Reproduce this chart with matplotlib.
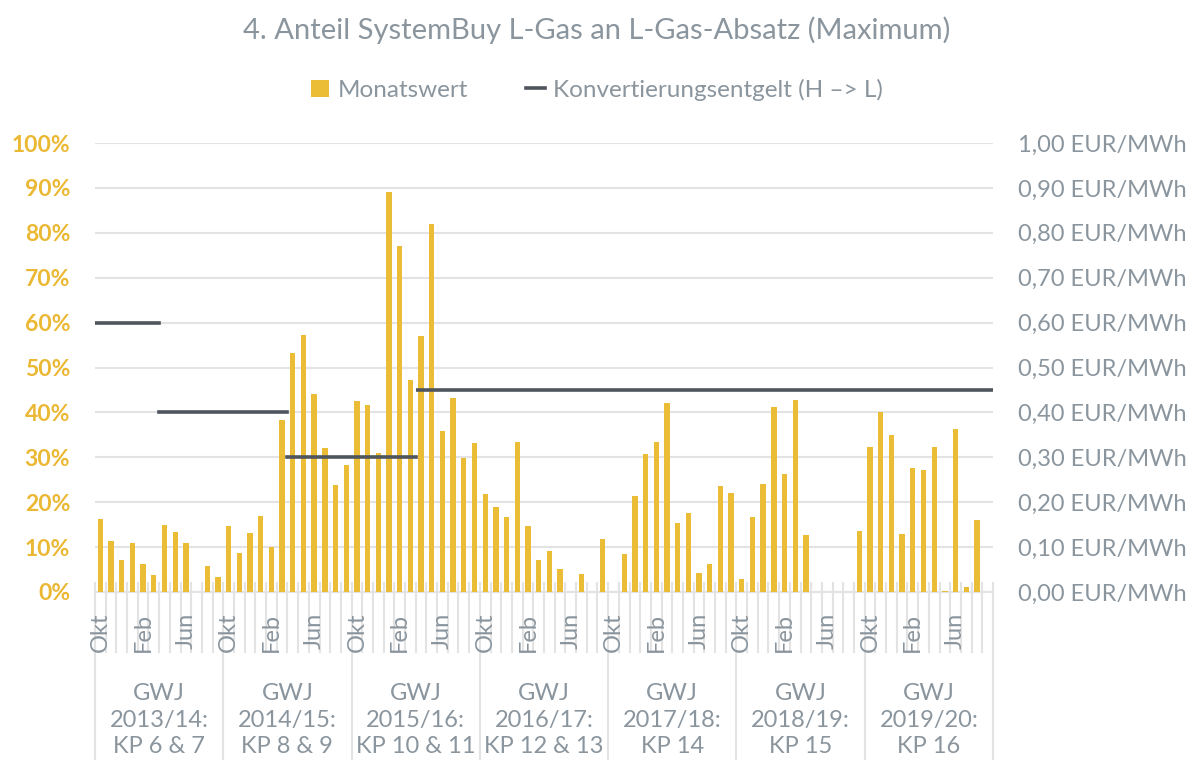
import matplotlib
matplotlib.use("Agg")
import matplotlib.pyplot as plt
from matplotlib.lines import Line2D
from matplotlib.patches import Patch
import matplotlib.transforms as mtransforms
import numpy as np

plt.rcParams['font.family'] = ['Lato', 'DejaVu Sans']

# ---------------- data ----------------
months = ["Okt", "Nov", "Dez", "Jan", "Feb", "Mär", "Apr", "Mai", "Jun", "Jul", "Aug", "Sep"]
years = ["GWJ\n2013/14:\nKP 6 & 7", "GWJ\n2014/15:\nKP 8 & 9", "GWJ\n2015/16:\nKP 10 & 11",
         "GWJ\n2016/17:\nKP 12 & 13", "GWJ\n2017/18:\nKP 14", "GWJ\n2018/19:\nKP 15",
         "GWJ\n2019/20:\nKP 16"]

monatswert = [
    # 2013/14
    16.3, 11.4, 7.1, 10.9, 6.3, 3.8, 15.0, 13.4, 10.9, 0.0, 5.7, 3.3,
    # 2014/15
    14.7, 8.7, 13.1, 16.9, 10.0, 38.4, 53.2, 57.2, 44.2, 32.1, 23.9, 28.3,
    # 2015/16
    42.6, 41.7, 31.0, 89.1, 77.0, 47.2, 57.0, 82.0, 35.9, 43.1, 29.9, 33.2,
    # 2016/17
    21.8, 19.0, 16.7, 33.3, 14.6, 7.1, 9.1, 5.2, 0.0, 3.9, 0.0, 11.8,
    # 2017/18
    0.0, 8.5, 21.3, 30.8, 33.5, 42.2, 15.4, 17.7, 4.2, 6.2, 23.7, 22.1,
    # 2018/19
    3.0, 16.7, 24.1, 41.1, 26.3, 42.8, 12.6, 0.0, 0.0, 0.0, 0.0, 13.6,
    # 2019/20
    32.2, 40.2, 35.0, 12.9, 27.7, 27.2, 32.3, 0.2, 36.2, 1.2, 16.1, 0.0,
]

# Konvertierungsentgelt: level (EUR/MWh) and the month index range it covers
entgelt_values = [0.60, 0.40, 0.30, 0.45]
entgelt_start = [0, 6, 18, 30]
entgelt_end = [6, 18, 30, 84]

# ---------------- style ----------------
GOLD = "#EBBD36"
GOLD_TXT = "#EBB834"
LINE = "#4E555C"
GRAY_TXT = "#8A959E"
GRID = "#E3E3E3"

n = len(monatswert)
x = np.arange(n)

fig = plt.figure(figsize=(11.94, 7.60), dpi=100)
ax = fig.add_axes([95 / 1194, 1 - 592 / 760, (993 - 95) / 1194, (592 - 143) / 760])
ax2 = ax.twinx()

ax.bar(x, np.array(monatswert) / 100.0, width=0.5, color=GOLD, zorder=3)
ax.set_ylim(0, 1.0)
ax.set_xlim(-0.5, n - 0.5)
ax.set_yticks(np.arange(0, 1.01, 0.1))
ax.set_yticklabels([f"{int(round(v * 100))}%" for v in np.arange(0, 1.01, 0.1)])
ax.tick_params(axis='y', length=0, pad=18, labelsize=16.5, labelcolor=GOLD_TXT)
for lbl in ax.get_yticklabels():
    lbl.set_fontweight('bold')
ax.grid(axis='y', color=GRID, linewidth=1.5, zorder=0)
ax.set_axisbelow(True)

# secondary axis line segments
for v, s, e in zip(entgelt_values, entgelt_start, entgelt_end):
    ax2.plot([s - 0.5, e - 0.5], [v, v], color=LINE, linewidth=2.6,
             solid_capstyle='projecting' if e < n else 'butt', zorder=4)
ax2.set_ylim(0, 1.0)
ax2.set_yticks(np.arange(0, 1.01, 0.1))
ax2.set_yticklabels([f"{v:.2f}".replace('.', ',') + " EUR/MWh" for v in np.arange(0, 1.01, 0.1)])
ax2.tick_params(axis='y', length=0, pad=18, labelsize=17, labelcolor=GRAY_TXT)

for a in (ax, ax2):
    for sp in a.spines.values():
        sp.set_visible(False)
ax.spines['bottom'].set_visible(True)
ax.spines['bottom'].set_color(GRID)
ax.spines['bottom'].set_linewidth(1.5)

# x tick labels: Okt, Feb, Jun per year
label_idx = [i for i in range(n) if i % 4 == 0]
ax.set_xticks(label_idx)
ax.set_xticklabels([months[i % 12] for i in label_idx], rotation=90, fontsize=17, color=GRAY_TXT)
ax.tick_params(axis='x', length=0, pad=15)
for lbl in ax.get_xticklabels():
    lbl.set_zorder(5)

# category boundary tick lines
trans = mtransforms.blended_transform_factory(ax.transData, ax.transAxes)
axh = (592 - 143)
for b in range(n + 1):
    bx = b - 0.5
    if b % 12 == 0:
        y0, y1 = 9 / axh, -(760 - 592) / axh
    else:
        y0, y1 = 9 / axh, -(652 - 592) / axh
    ax.add_line(Line2D([bx, bx], [y0, y1], transform=trans, color=GRID,
                       linewidth=1.5, clip_on=False, zorder=0.2))

# year group labels
for k, yl in enumerate(years):
    ax.text(k * 12 + 5.5, -(720 - 592) / axh, yl, transform=trans, ha='center', va='center',
            fontsize=17, color=GRAY_TXT, linespacing=1.3, clip_on=False)

# title and legend
fig.text(0.5, 1 - 30 / 760, "4. Anteil SystemBuy L-Gas an L-Gas-Absatz (Maximum)",
         ha='center', va='center', fontsize=21, color=GRAY_TXT)
handles = [Patch(facecolor=GOLD, edgecolor='none', label="Monatswert"),
           Line2D([0], [0], color=LINE, linewidth=2.6, label="Konvertierungsentgelt (H –> L)")]
leg = fig.legend(handles=handles, loc='center', bbox_to_anchor=(0.5, 1 - 90 / 760), ncol=2,
                 frameon=False, fontsize=17.5, handlelength=0.75, handleheight=0.75,
                 handletextpad=0.35, columnspacing=2.4)
for t in leg.get_texts():
    t.set_color(GRAY_TXT)

fig.savefig("out.png", dpi=100, facecolor='white')
